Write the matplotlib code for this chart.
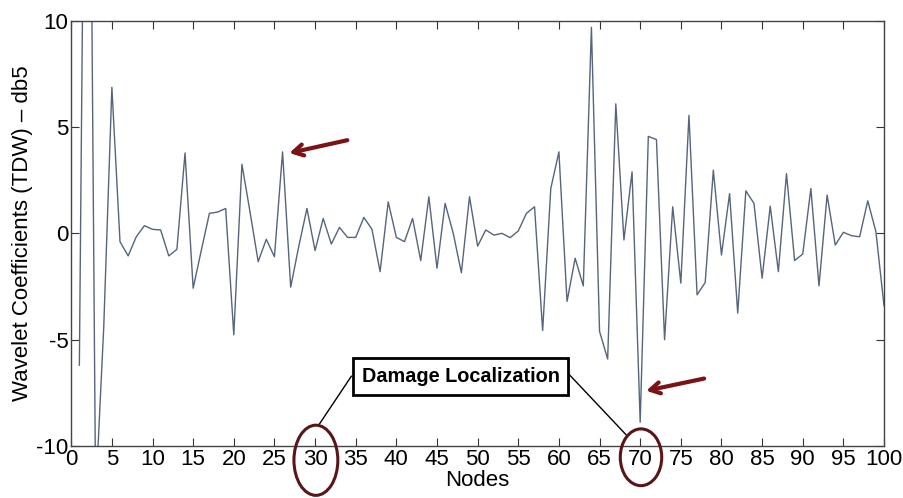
import matplotlib
matplotlib.use("Agg")
import matplotlib.pyplot as plt
from matplotlib.patches import Ellipse
import numpy as np

plt.rcParams['font.family'] = ['Liberation Sans', 'DejaVu Sans']
plt.rcParams['axes.unicode_minus'] = False

nodes = list(range(1, 101))
coeffs = [
    -6.2, 37.0, -12.4, -4.4, 6.87, -0.39, -1.06, -0.16, 0.36, 0.19,
    0.16, -1.06, -0.75, 3.78, -2.58, -0.8, 0.94, 1.0, 1.17, -4.77,
    3.25, 1.0, -1.33, -0.28, -1.1, 3.83, -2.53, -0.6, 1.17, -0.81,
    0.70, -0.5, 0.28, -0.19, -0.19, 0.75, 0.19, -1.8, 1.48, -0.19,
    -0.39, 0.70, -1.28, 1.72, -1.64, 1.41, 0.0, -1.85, 1.72, -0.6,
    0.16, -0.08, 0.0, -0.2, 0.11, 0.94, 1.25, -4.57, 2.11, 3.83,
    -3.2, -1.17, -2.47, 9.69, -4.61, -5.91, 6.09, -0.31, 2.89, -8.88,
    4.56, 4.41, -5.0, 1.25, -2.34, 5.55, -2.89, -2.31, 2.97, -1.02,
    1.87, -3.75, 2.0, 1.41, -2.11, 1.28, -1.8, 2.81, -1.28, -0.97,
    2.11, -2.47, 1.8, -0.55, 0.05, -0.11, -0.16, 1.53, 0.08, -3.41,
]
xticks = list(range(0, 101, 5))
yticks = [-10, -5, 0, 5, 10]

fig = plt.figure(figsize=(9.04, 4.98), dpi=100)
ax = fig.add_axes([0.0788, 0.1044, 0.8991, 0.854])
ax.plot(nodes, coeffs, color='#56647c', lw=1.0)
ax.set_xlim(0, 100)
ax.set_ylim(-10, 10)
ax.set_xticks(xticks)
ax.set_yticks(yticks)
ax.tick_params(direction='in', top=True, right=True, length=6, width=0.8,
               labelsize=16, color='#333333', pad=2)
for s in ax.spines.values():
    s.set_color('#444444')
    s.set_linewidth(1.0)
ax.set_xlabel('Nodes', fontsize=16, labelpad=0)
ax.set_ylabel('Wavelet Coefficients (TDW) \u2013 db5', fontsize=16, labelpad=2)

# circles around tick labels
ax.add_patch(Ellipse((30.1, -10.67), 5.4, 3.3, fill=False, edgecolor='#5a1518',
                     lw=2.2, clip_on=False, zorder=5))
ax.add_patch(Ellipse((70.1, -10.53), 5.1, 2.67, fill=False, edgecolor='#5a1518',
                     lw=2.2, clip_on=False, zorder=5))

# annotation box
ax.text(47.9, -6.74, 'Damage Localization', fontsize=14.3, fontweight='bold',
        ha='center', va='center', zorder=6,
        bbox=dict(boxstyle='square,pad=0.45', fc='white', ec='black', lw=2))
ax.plot([34.46, 30.51], [-6.72, -8.98], color='black', lw=1.0, clip_on=False)
ax.plot([61.27, 68.24], [-6.64, -9.46], color='black', lw=1.0, clip_on=False)

# arrows
ax.annotate('', xy=(26.5, 3.75), xytext=(34.3, 4.41),
            arrowprops=dict(arrowstyle='->,head_length=0.7,head_width=0.4',
                            color='#7b1316', lw=3))
ax.annotate('', xy=(70.4, -7.43), xytext=(78.2, -6.8),
            arrowprops=dict(arrowstyle='->,head_length=0.7,head_width=0.4',
                            color='#7b1316', lw=3))

fig.savefig('out.png', dpi=100)
